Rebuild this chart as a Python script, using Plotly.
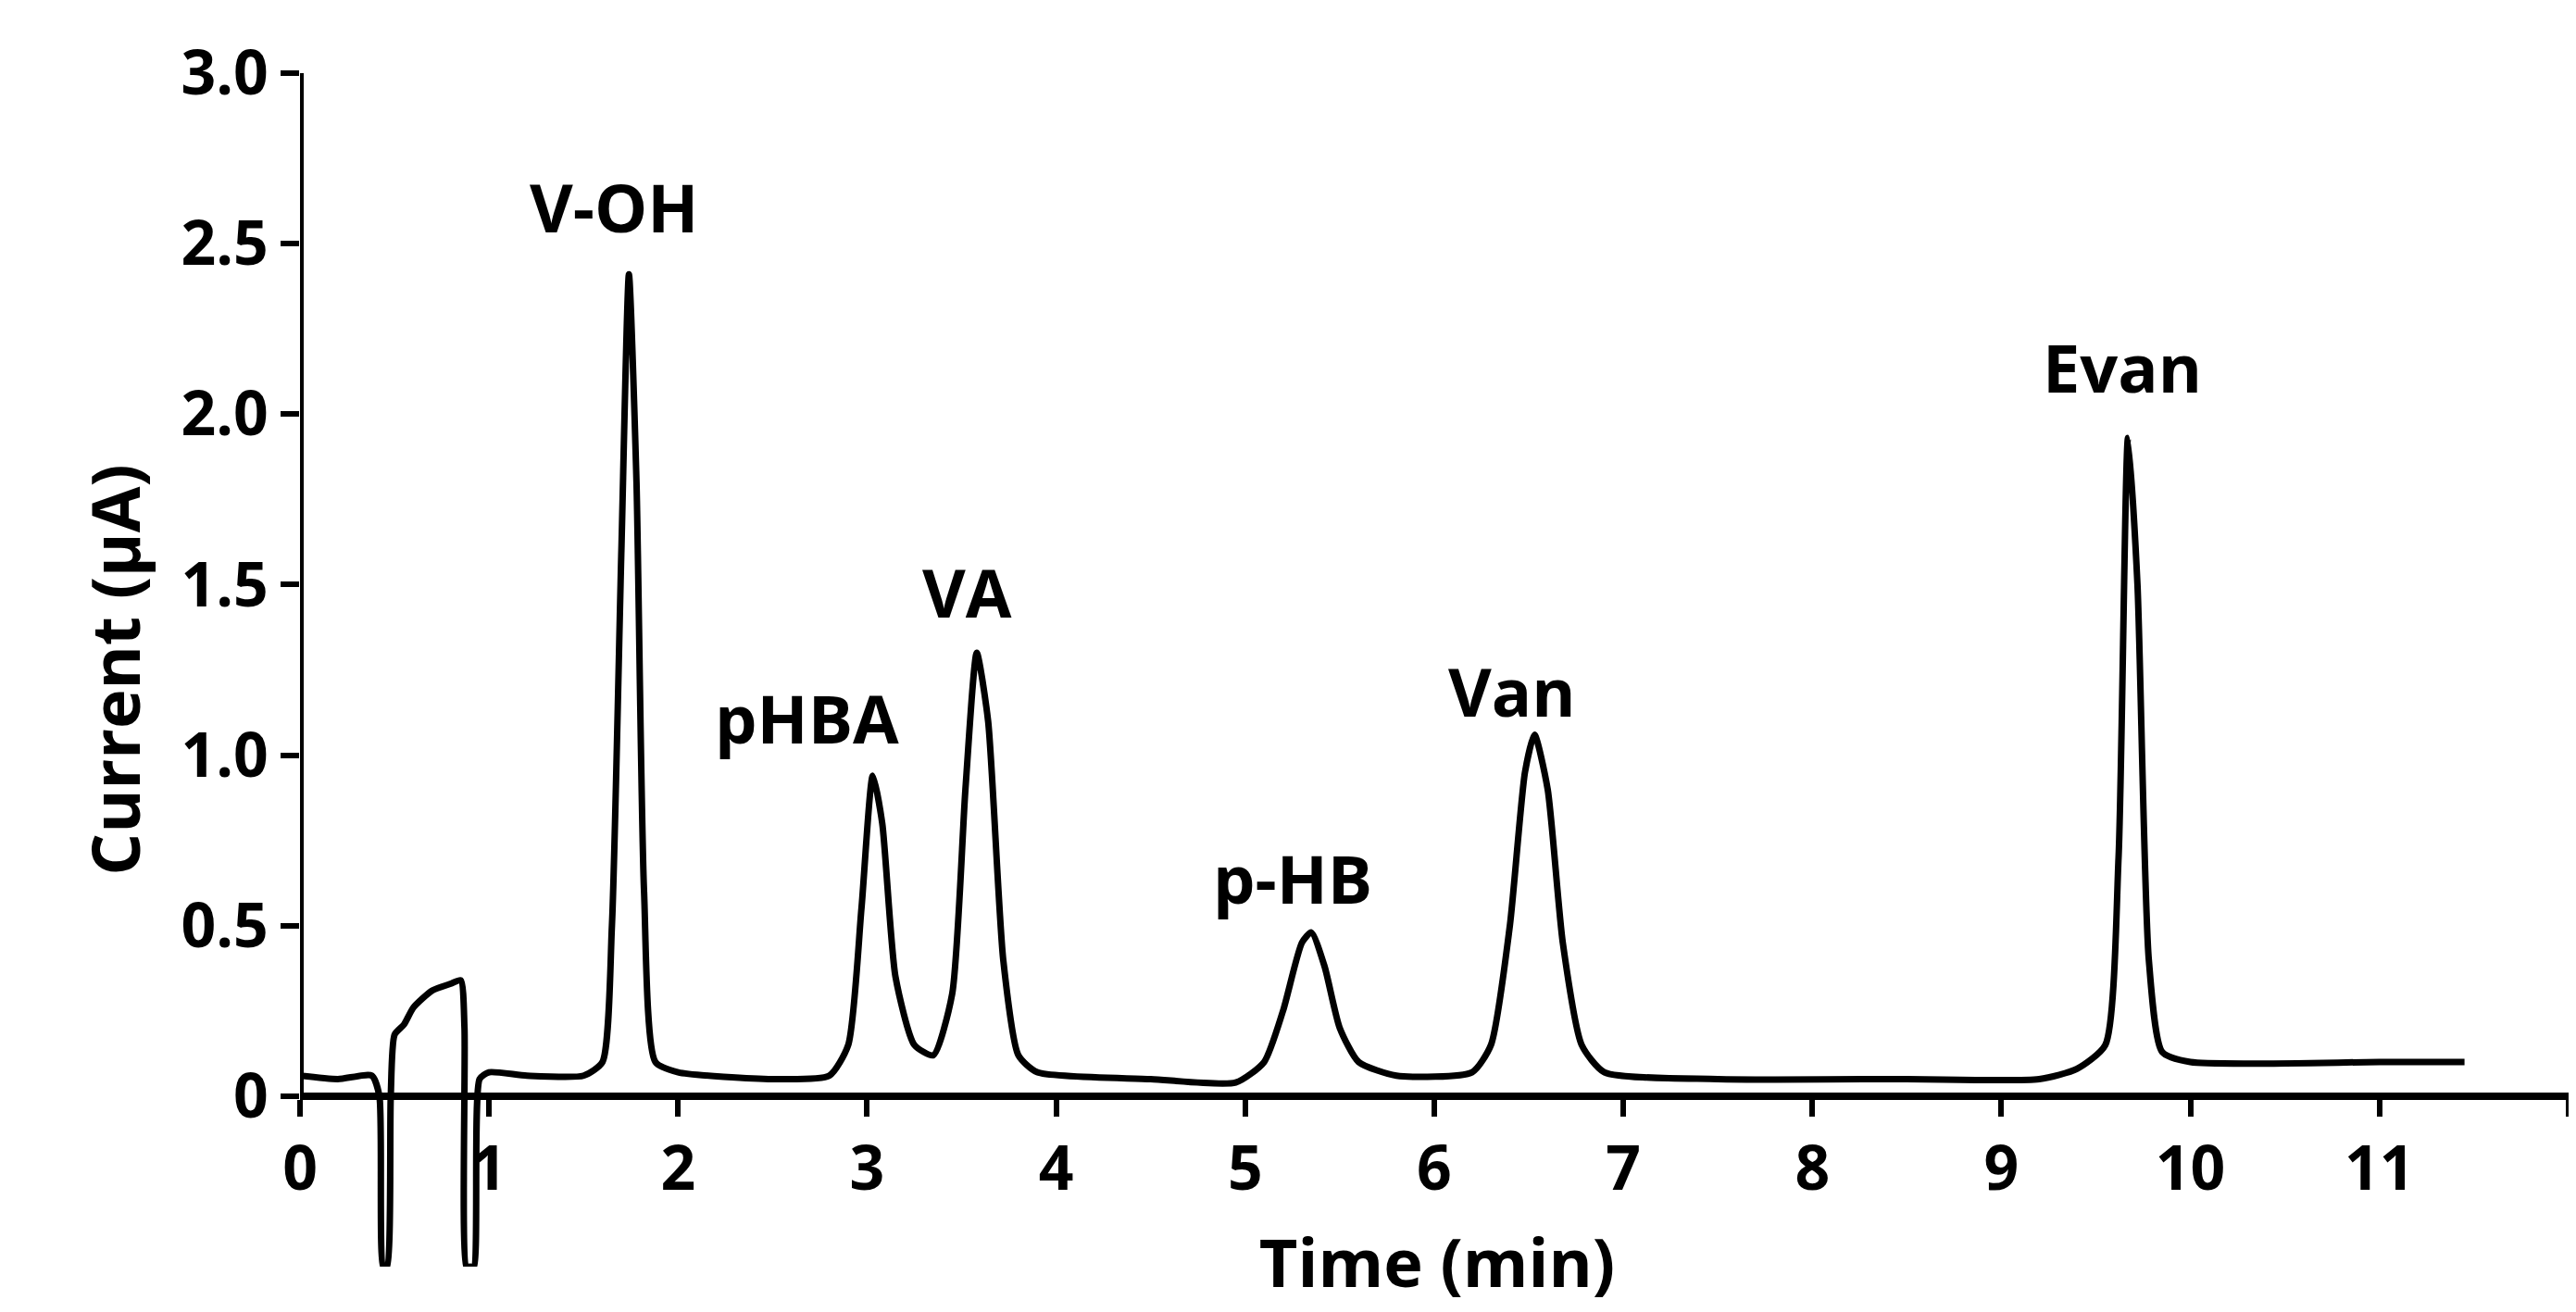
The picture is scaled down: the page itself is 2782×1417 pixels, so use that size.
import plotly.graph_objects as go

# chromatogram
time_min = [0, 0.2, 0.38, 0.42, 0.44, 0.46, 0.48, 0.5, 0.55, 0.6, 0.7, 0.8, 0.85, 0.87, 0.88,
            0.9, 0.92, 0.95, 1.0, 1.2, 1.5, 1.6, 1.65, 1.7, 1.74, 1.78, 1.82, 1.88, 2.0, 2.5,
            2.8, 2.9, 2.97, 3.03, 3.08, 3.15, 3.25, 3.35, 3.45, 3.52, 3.58, 3.64, 3.72, 3.8,
            3.9, 4.5, 4.95, 5.1, 5.2, 5.3, 5.35, 5.42, 5.5, 5.6, 5.8, 6.2, 6.3, 6.4, 6.48,
            6.53, 6.6, 6.68, 6.78, 6.9, 7.5, 8.5, 9.2, 9.4, 9.55, 9.62, 9.67, 9.72, 9.78,
            9.85, 10.0, 11.0, 11.45]
current_ua = [0.06, 0.05, 0.06, 0.0, -0.5, -0.5, 0.0, 0.18, 0.21, 0.26, 0.31, 0.33, 0.34, 0.2, -0.5,
              -0.5, -0.5, 0.05, 0.07, 0.06, 0.06, 0.1, 0.5, 1.6, 2.41, 1.8, 0.6, 0.1, 0.07, 0.05,
              0.06, 0.15, 0.55, 0.94, 0.8, 0.35, 0.15, 0.12, 0.3, 0.9, 1.3, 1.1, 0.4, 0.12,
              0.07, 0.05, 0.04, 0.1, 0.25, 0.45, 0.48, 0.38, 0.2, 0.1, 0.06, 0.07, 0.15, 0.5, 0.95,
              1.06, 0.9, 0.45, 0.15, 0.07, 0.05, 0.05, 0.05, 0.08, 0.15, 0.7, 1.93, 1.5, 0.4,
              0.13, 0.1, 0.1, 0.1]

peak_names = ["V-OH", "pHBA", "VA", "p-HB", "Van", "Evan"]
peak_x = [1.66, 2.68, 3.53, 5.25, 6.41, 9.64]
peak_y = [2.61, 1.11, 1.48, 0.64, 1.19, 2.14]

x_ticks = list(range(0, 13))
y_ticks = [0, 0.5, 1.0, 1.5, 2.0, 2.5, 3.0]
y_labels = ["0", "0.5", "1.0", "1.5", "2.0", "2.5", "3.0"]

font = "Open Sans"

fig = go.Figure()
fig.add_trace(go.Scatter(x=time_min, y=current_ua, mode="lines",
                         line=dict(color="black", width=7, shape="spline", smoothing=0.6),
                         hoverinfo="skip"))

for name, px_, py_ in zip(peak_names, peak_x, peak_y):
    fig.add_annotation(x=px_, y=py_, text="<b>%s</b>" % name, showarrow=False,
                       font=dict(family=font, size=72, color="black"))

# y axis line only from 0 to 3
fig.add_shape(type="line", x0=0, x1=0, y0=0, y1=3.0, line=dict(color="black", width=8))

ymin, ymax = -0.5, 3.0
fig.update_layout(
    width=2782, height=1417,
    margin=dict(l=316, r=10, t=71, b=57),
    plot_bgcolor="white", paper_bgcolor="white",
    showlegend=False,
    font=dict(family=font, color="black"),
    xaxis=dict(range=[0, 12.03], tickvals=x_ticks, ticktext=["<b>%d</b>" % t for t in x_ticks],
               showgrid=False, zeroline=False, showline=True, linecolor="black", linewidth=8,
               ticks="outside", ticklen=18, tickwidth=6, tickcolor="black",
               tickfont=dict(size=66), anchor="free", position=(0 - ymin) / (ymax - ymin),
               title=dict(text="<b>Time (min)</b>", font=dict(size=72), standoff=36)),
    yaxis=dict(range=[ymin, ymax], tickvals=y_ticks, ticktext=["<b>%s</b>" % t for t in y_labels],
               showgrid=False, zeroline=False, showline=False,
               ticks="outside", ticklen=20, tickwidth=6, tickcolor="black",
               tickfont=dict(size=66),
               title=dict(text="<b>Current (μA)</b>", font=dict(size=72), standoff=20)),
)

fig.write_html("out.html")
